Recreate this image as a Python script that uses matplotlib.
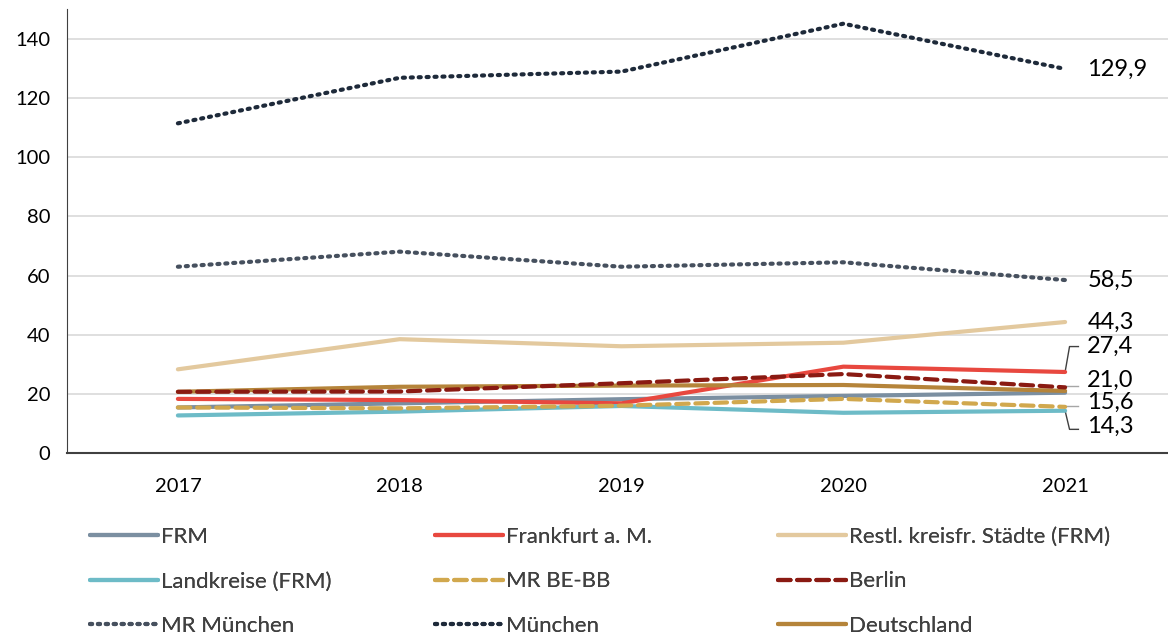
import matplotlib
matplotlib.use("Agg")
import matplotlib.pyplot as plt

years = ["2017", "2018", "2019", "2020", "2021"]

frm = [15.4, 16.8, 18.2, 19.3, 20.4]
frankfurt = [18.3, 17.9, 16.8, 29.2, 27.4]
restl = [28.3, 38.5, 36.1, 37.3, 44.3]
landkreise = [12.7, 14.0, 15.9, 13.6, 14.3]
mr_bebb = [15.4, 15.1, 16.0, 18.3, 15.6]
berlin = [20.7, 20.8, 23.6, 26.7, 22.2]
mr_muenchen = [63.0, 68.1, 63.0, 64.5, 58.5]
muenchen = [111.5, 126.9, 129.0, 145.2, 129.9]
deutschland = [20.7, 22.4, 22.8, 23.0, 21.0]

end_labels = ["129,9", "58,5", "44,3", "27,4", "21,0", "15,6", "14,3"]
end_label_y = [129.9, 58.5, 44.3, 36.0, 24.5, 17.0, 9.0]

plt.rcParams["font.family"] = ["Lato", "DejaVu Sans"]

fig = plt.figure(figsize=(11.68, 6.37), dpi=100)
ax = fig.add_axes([67 / 1168, 184 / 637, 1109 / 1168, 443.5 / 637])

x = list(range(len(years)))
series = [
    ("FRM", frm, "#7B8FA1", "-"),
    ("Frankfurt a. M.", frankfurt, "#E8483F", "-"),
    ("Restl. kreisfr. Städte (FRM)", restl, "#E3C99E", "-"),
    ("Landkreise (FRM)", landkreise, "#6DBBC7", "-"),
    ("MR BE-BB", mr_bebb, "#D1A84E", (0, (3, 1.6))),
    ("Berlin", berlin, "#8A1A12", (0, (3, 1.6))),
    ("MR München", mr_muenchen, "#46505E", (0, (0.5, 1.4))),
    ("München", muenchen, "#1E2A3A", (0, (0.5, 1.4))),
    ("Deutschland", deutschland, "#B5843A", "-"),
]

handles = {}
zorder = {"Deutschland": 3, "Berlin": 4, "MR BE-BB": 4}
for name, vals, col, ls in series:
    (h,) = ax.plot(x, vals, color=col, linestyle=ls, linewidth=3,
                   dash_capstyle="round" if ls != "-" else "butt",
                   solid_capstyle="round", label=name,
                   zorder=zorder.get(name, 3))
    handles[name] = h

ax.set_xlim(-0.5, 4.5)
ax.set_ylim(0, 150)
ax.set_yticks([0, 20, 40, 60, 80, 100, 120, 140])
ax.set_xticks(x)
ax.set_xticklabels(years)
ax.tick_params(axis="both", length=0, labelsize=14.5, colors="black")
ax.tick_params(axis="x", pad=18)
ax.tick_params(axis="y", pad=12)
ax.grid(axis="y", color="#D9D9D9", linewidth=1.2)
ax.set_axisbelow(True)
for s in ["top", "right"]:
    ax.spines[s].set_visible(False)
ax.spines["left"].set_color("#404040")
ax.spines["bottom"].set_color("#404040")
ax.spines["bottom"].set_linewidth(1.5)

# end labels
for lab, ly in zip(end_labels, end_label_y):
    ax.text(4.1, ly, lab, fontsize=17, va="center", ha="left", clip_on=False)

# leader lines
ax.plot([4.0, 4.02, 4.06], [frankfurt[-1], 36.0, 36.0], color="#404040", lw=1, clip_on=False)
ax.plot([4.0, 4.06], [22.8, 22.8], color="#A6A6A6", lw=1)
ax.plot([4.0, 4.06], [16.0, 16.0], color="#A6A6A6", lw=1)
ax.plot([4.0, 4.02, 4.06], [landkreise[-1], 8.0, 8.0], color="#404040", lw=1)

# legend: three separate columns
columns = [["FRM", "Landkreise (FRM)", "MR München"],
           ["Frankfurt a. M.", "MR BE-BB", "München"],
           ["Restl. kreisfr. Städte (FRM)", "Berlin", "Deutschland"]]
col_x = [90, 435, 778]
for names, cx in zip(columns, col_x):
    leg = fig.legend([handles[n] for n in names], names, loc="upper left",
                     bbox_to_anchor=(cx / 1168, 1 - 527 / 637), frameon=False,
                     fontsize=16, handlelength=3.05, handletextpad=0.15,
                     labelspacing=1.1, borderpad=0, borderaxespad=0,
                     labelcolor="#404040")
    fig.add_artist(leg)

fig.savefig("out.png", dpi=100)
